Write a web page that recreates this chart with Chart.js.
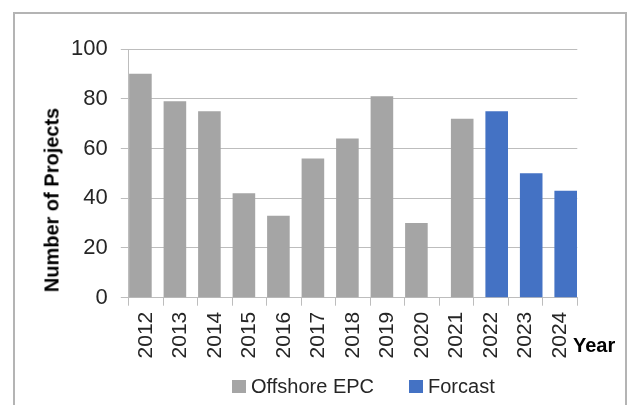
<!DOCTYPE html>
<html>
<head>
<meta charset="utf-8">
<script src="https://cdn.jsdelivr.net/npm/chart.js@4/dist/chart.umd.min.js"></script>
<style>
  body { margin: 0; background: #fff; font-family: "Liberation Sans", Arial, sans-serif; }
  #wrap { position: relative; width: 627px; height: 405px; overflow: hidden; }
  #frame {
    position: absolute; left: 13px; top: 12px; width: 610px; height: 420px;
    border: 2px solid #b4b4b4; border-bottom: none;
  }
  #myChart { position: absolute; left: 0; top: 0; }
  #ytitle {
    position: absolute; left: 52px; top: 200px; white-space: nowrap;
    transform: translate(-50%, -50%) rotate(-90deg);
    font-weight: bold; font-size: 20px; color: #000;
  }
  #year { position: absolute; left: 573px; top: 334px; font-weight: bold; font-size: 20px; color: #000; }
  #legend { position: absolute; left: 232px; top: 375px; display: flex; font-size: 20px; color: #262626; }
  #legend .item { display: flex; align-items: center; margin-right: 35px; }
  #legend .box { width: 14px; height: 13px; margin-right: 5px; }
</style>
</head>
<body>
<div id="wrap">
  <div id="frame"></div>
  <canvas id="myChart" width="627" height="405"></canvas>
  <div id="ytitle">Number of Projects</div>
  <div id="year">Year</div>
  <div id="legend"></div>
</div>
<script>
const years = ['2012', '2013', '2014', '2015', '2016', '2017', '2018', '2019', '2020', '2021', '2022', '2023', '2024'];
const offshoreEpc = [90, 79, 75, 42, 33, 56, 64, 81, 30, null, null, null, null];
const forcast = [null, null, null, null, null, null, null, null, null, 72, 75, 50, 43];
const yTicks = [0, 20, 40, 60, 80, 100];

const grey = '#a5a5a5';
const blue = '#4472c4';
const gridColor = '#bdbdbd';

const ctx = document.getElementById('myChart').getContext('2d');

const chartData = {
  labels: years,
  datasets: [
    {
      label: 'Offshore EPC',
      data: offshoreEpc,
      backgroundColor: grey,
      categoryPercentage: 0.655,
      barPercentage: 2.0
    },
    {
      label: 'Forcast',
      data: forcast,
      // 2021 sits in the forecast slot but is still drawn grey
      backgroundColor: (c) => c.dataIndex === 9 ? grey : blue,
      categoryPercentage: 0.655,
      barPercentage: 2.0
    }
  ]
};

const myChart = new Chart(ctx, {
  type: 'bar',
  data: chartData,
  options: {
    responsive: false,
    animation: false,
    layout: { padding: { left: 0, top: 49, right: 49.7, bottom: 0 } },
    plugins: {
      legend: { display: false },
      tooltip: { enabled: false }
    },
    scales: {
      x: {
        grid: {
          offset: true,
          drawOnChartArea: false,
          drawTicks: true,
          tickLength: 8,
          color: gridColor
        },
        border: { color: gridColor, width: 1 },
        ticks: {
          minRotation: 90,
          maxRotation: 90,
          padding: 6,
          color: '#262626',
          font: { family: 'Liberation Sans', size: 21 }
        },
        afterFit: (scale) => { scale.height = 107.3; }
      },
      y: {
        min: 0,
        max: 100,
        afterBuildTicks: (scale) => { scale.ticks = yTicks.map(v => ({ value: v })); },
        grid: { color: gridColor, tickLength: 8, lineWidth: 1 },
        border: { color: gridColor, width: 1 },
        ticks: {
          padding: 13,
          color: '#262626',
          font: { family: 'Liberation Sans', size: 22 }
        },
        afterFit: (scale) => { scale.width = 128.8; }
      }
    }
  }
});

// legend built from the datasets
const legend = document.getElementById('legend');
myChart.data.datasets.forEach((ds, i) => {
  const item = document.createElement('div');
  item.className = 'item';
  const color = i === 0 ? grey : blue;
  item.innerHTML = `<span class="box" style="background:${color}"></span><span>${ds.label}</span>`;
  legend.appendChild(item);
});
</script>
</body>
</html>
